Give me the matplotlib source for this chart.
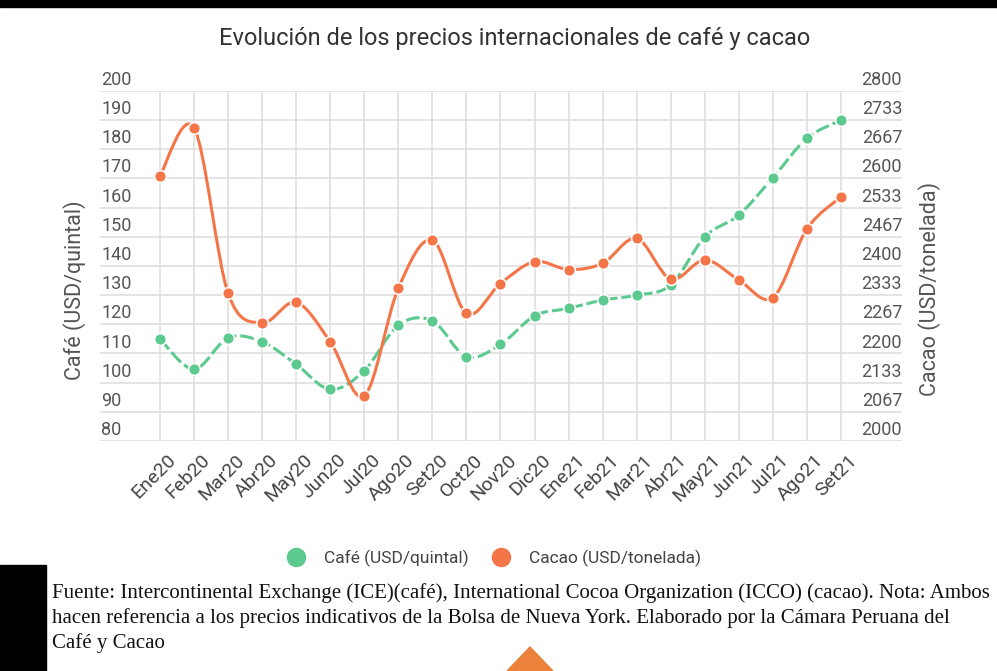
import numpy as np
import matplotlib
matplotlib.use("Agg")
import matplotlib.pyplot as plt
from matplotlib.path import Path
from matplotlib.patches import PathPatch, Polygon, Rectangle
from matplotlib.lines import Line2D
import matplotlib.transforms as mtransforms

plt.rcParams['font.family'] = ['Roboto', 'DejaVu Sans']

# datos
meses = ["Ene20", "Feb20", "Mar20", "Abr20", "May20", "Jun20", "Jul20", "Ago20",
         "Set20", "Oct20", "Nov20", "Dic20", "Ene21", "Feb21", "Mar21", "Abr21",
         "May21", "Jun21", "Jul21", "Ago21", "Set21"]
cafe = [115, 104.6, 115.4, 114, 106.3, 97.7, 104.1, 119.7, 121.2, 108.9, 113.1,
        122.9, 125.5, 128.3, 130, 133.5, 150, 157.5, 170.3, 183.8, 190]
cacao = [2606, 2716, 2338, 2270, 2317, 2227, 2103, 2349, 2459, 2292, 2360,
         2410, 2392, 2406, 2463, 2370, 2414, 2368, 2328, 2485, 2558]
ticks_cafe = [80, 90, 100, 110, 120, 130, 140, 150, 160, 170, 180, 190, 200]
ticks_cacao = ["2000", "2067", "2133", "2200", "2267", "2333", "2400", "2467",
               "2533", "2600", "2667", "2733", "2800"]

verde = '#5cc98f'
naranja = '#f47547'
gris = '#555555'


def curva(xs, ys):
    # curva suave (tipo catmull-rom) que pasa por los puntos
    P = np.column_stack([xs, ys]).astype(float)
    n = len(P)
    verts = [P[0]]
    codes = [Path.MOVETO]
    for i in range(n - 1):
        p0 = P[i - 1] if i > 0 else P[i]
        p3 = P[i + 2] if i + 2 < n else P[i + 1]
        c1 = P[i] + (P[i + 1] - p0) / 6.0
        c2 = P[i + 1] - (p3 - P[i]) / 6.0
        verts += [c1, c2, P[i + 1]]
        codes += [Path.CURVE4] * 3
    return Path(verts, codes)


fig = plt.figure(figsize=(9.97, 6.71), dpi=100)
W, H = 997, 671
ax = fig.add_axes([100 / W, 230 / H, 802 / W, 350 / H])
ax2 = ax.twinx()

x = np.arange(len(meses))
ax.set_xlim(-1.76, 21.79)
ax.set_ylim(80, 200)
ax2.set_ylim(2000, 2800)

for s in list(ax.spines.values()) + list(ax2.spines.values()):
    s.set_visible(False)
ax.tick_params(length=0, labelleft=False)
ax2.tick_params(length=0, labelright=False)
ax.set_yticks(ticks_cafe)
ax2.set_yticks([])
ax.set_xticks(x)
ax.set_xticklabels([])
ax.grid(True, color='#dddddd', linewidth=1.1)
ax.set_axisbelow(True)

# etiquetas de los ejes y encima de cada linea
trL = mtransforms.offset_copy(ax.get_yaxis_transform(), fig=fig, x=1, y=2, units='dots')
for v in ticks_cafe:
    ax.text(0, v, str(v), transform=trL, ha='left', va='bottom', fontsize=13, color=gris)
trR = mtransforms.offset_copy(ax.get_yaxis_transform(), fig=fig, x=0, y=2, units='dots')
for v, lab in zip(ticks_cafe, ticks_cacao):
    ax.text(1, v, lab, transform=trR, ha='right', va='bottom', fontsize=13, color=gris)

# etiquetas del eje x
trX = mtransforms.offset_copy(ax.get_xaxis_transform(), fig=fig, x=7, y=-10, units='dots')
for xi, m in zip(x, meses):
    ax.text(xi, 0, m, transform=trX, ha='right', va='top', rotation=45,
            rotation_mode='anchor', fontsize=14, color='#444444')

# series
ax.add_patch(PathPatch(curva(x, cafe), fill=False, edgecolor=verde, lw=2.2,
                       ls=(0, (4.5, 1.3)), zorder=3))
ax.plot(x, cafe, 'o', color=verde, ms=8.5, mec='white', mew=1.2, zorder=4)
ax2.add_patch(PathPatch(curva(x, cacao), fill=False, edgecolor=naranja, lw=2.2, zorder=3))
ax2.plot(x, cacao, 'o', color=naranja, ms=8.5, mec='white', mew=1.2, zorder=4)

fig.text(75 / W, 1 - 290 / H, "Café (USD/quintal)", rotation=90, ha='center', va='center',
         fontsize=15.5, color=gris)
fig.text(930 / W, 1 - 289 / H, "Cacao (USD/tonelada)", rotation=90, ha='center', va='center',
         fontsize=15.5, color=gris)
fig.text(515 / W, 1 - 38 / H, "Evolución de los precios internacionales de café y cacao",
         ha='center', va='center', fontsize=17, color='#333333')

# leyenda
h1 = Line2D([], [], ls='none', marker='o', color=verde, ms=13)
h2 = Line2D([], [], ls='none', marker='o', color=naranja, ms=13)
fig.legend([h1, h2], ["Café (USD/quintal)", "Cacao (USD/tonelada)"], loc='center',
           bbox_to_anchor=(490 / W, 1 - 558 / H), ncol=2, frameon=False, fontsize=12.5,
           handletextpad=0.6, columnspacing=0.9, labelcolor='#444444')

# nota al pie
nota = ["Fuente: Intercontinental Exchange (ICE)(café), International Cocoa Organization (ICCO) (cacao). Nota: Ambos",
        "hacen referencia a los precios indicativos de la Bolsa de Nueva York. Elaborado por la Cámara Peruana del",
        "Café y Cacao"]
for i, linea in enumerate(nota):
    fig.text(52 / W, 1 - (593 + 25 * i) / H, linea, ha='left', va='center',
             fontsize=15.05, family=['Liberation Serif', 'DejaVu Serif'], color='#111111')

# bordes negros y triangulo naranja de la captura
fig.patches.append(Rectangle((0, 1 - 7 / H), 1, 7 / H, transform=fig.transFigure,
                             color='black', zorder=10))
fig.patches.append(Rectangle((0, 0), 46 / W, (671 - 565) / H, transform=fig.transFigure,
                             color='black', zorder=10))
fig.patches.append(Polygon([(507 / W, 0), (530 / W, 1 - 647 / H), (553 / W, 0)],
                           closed=True, transform=fig.transFigure, color='#ea823c', zorder=10))

fig.savefig('out.png', dpi=100)
